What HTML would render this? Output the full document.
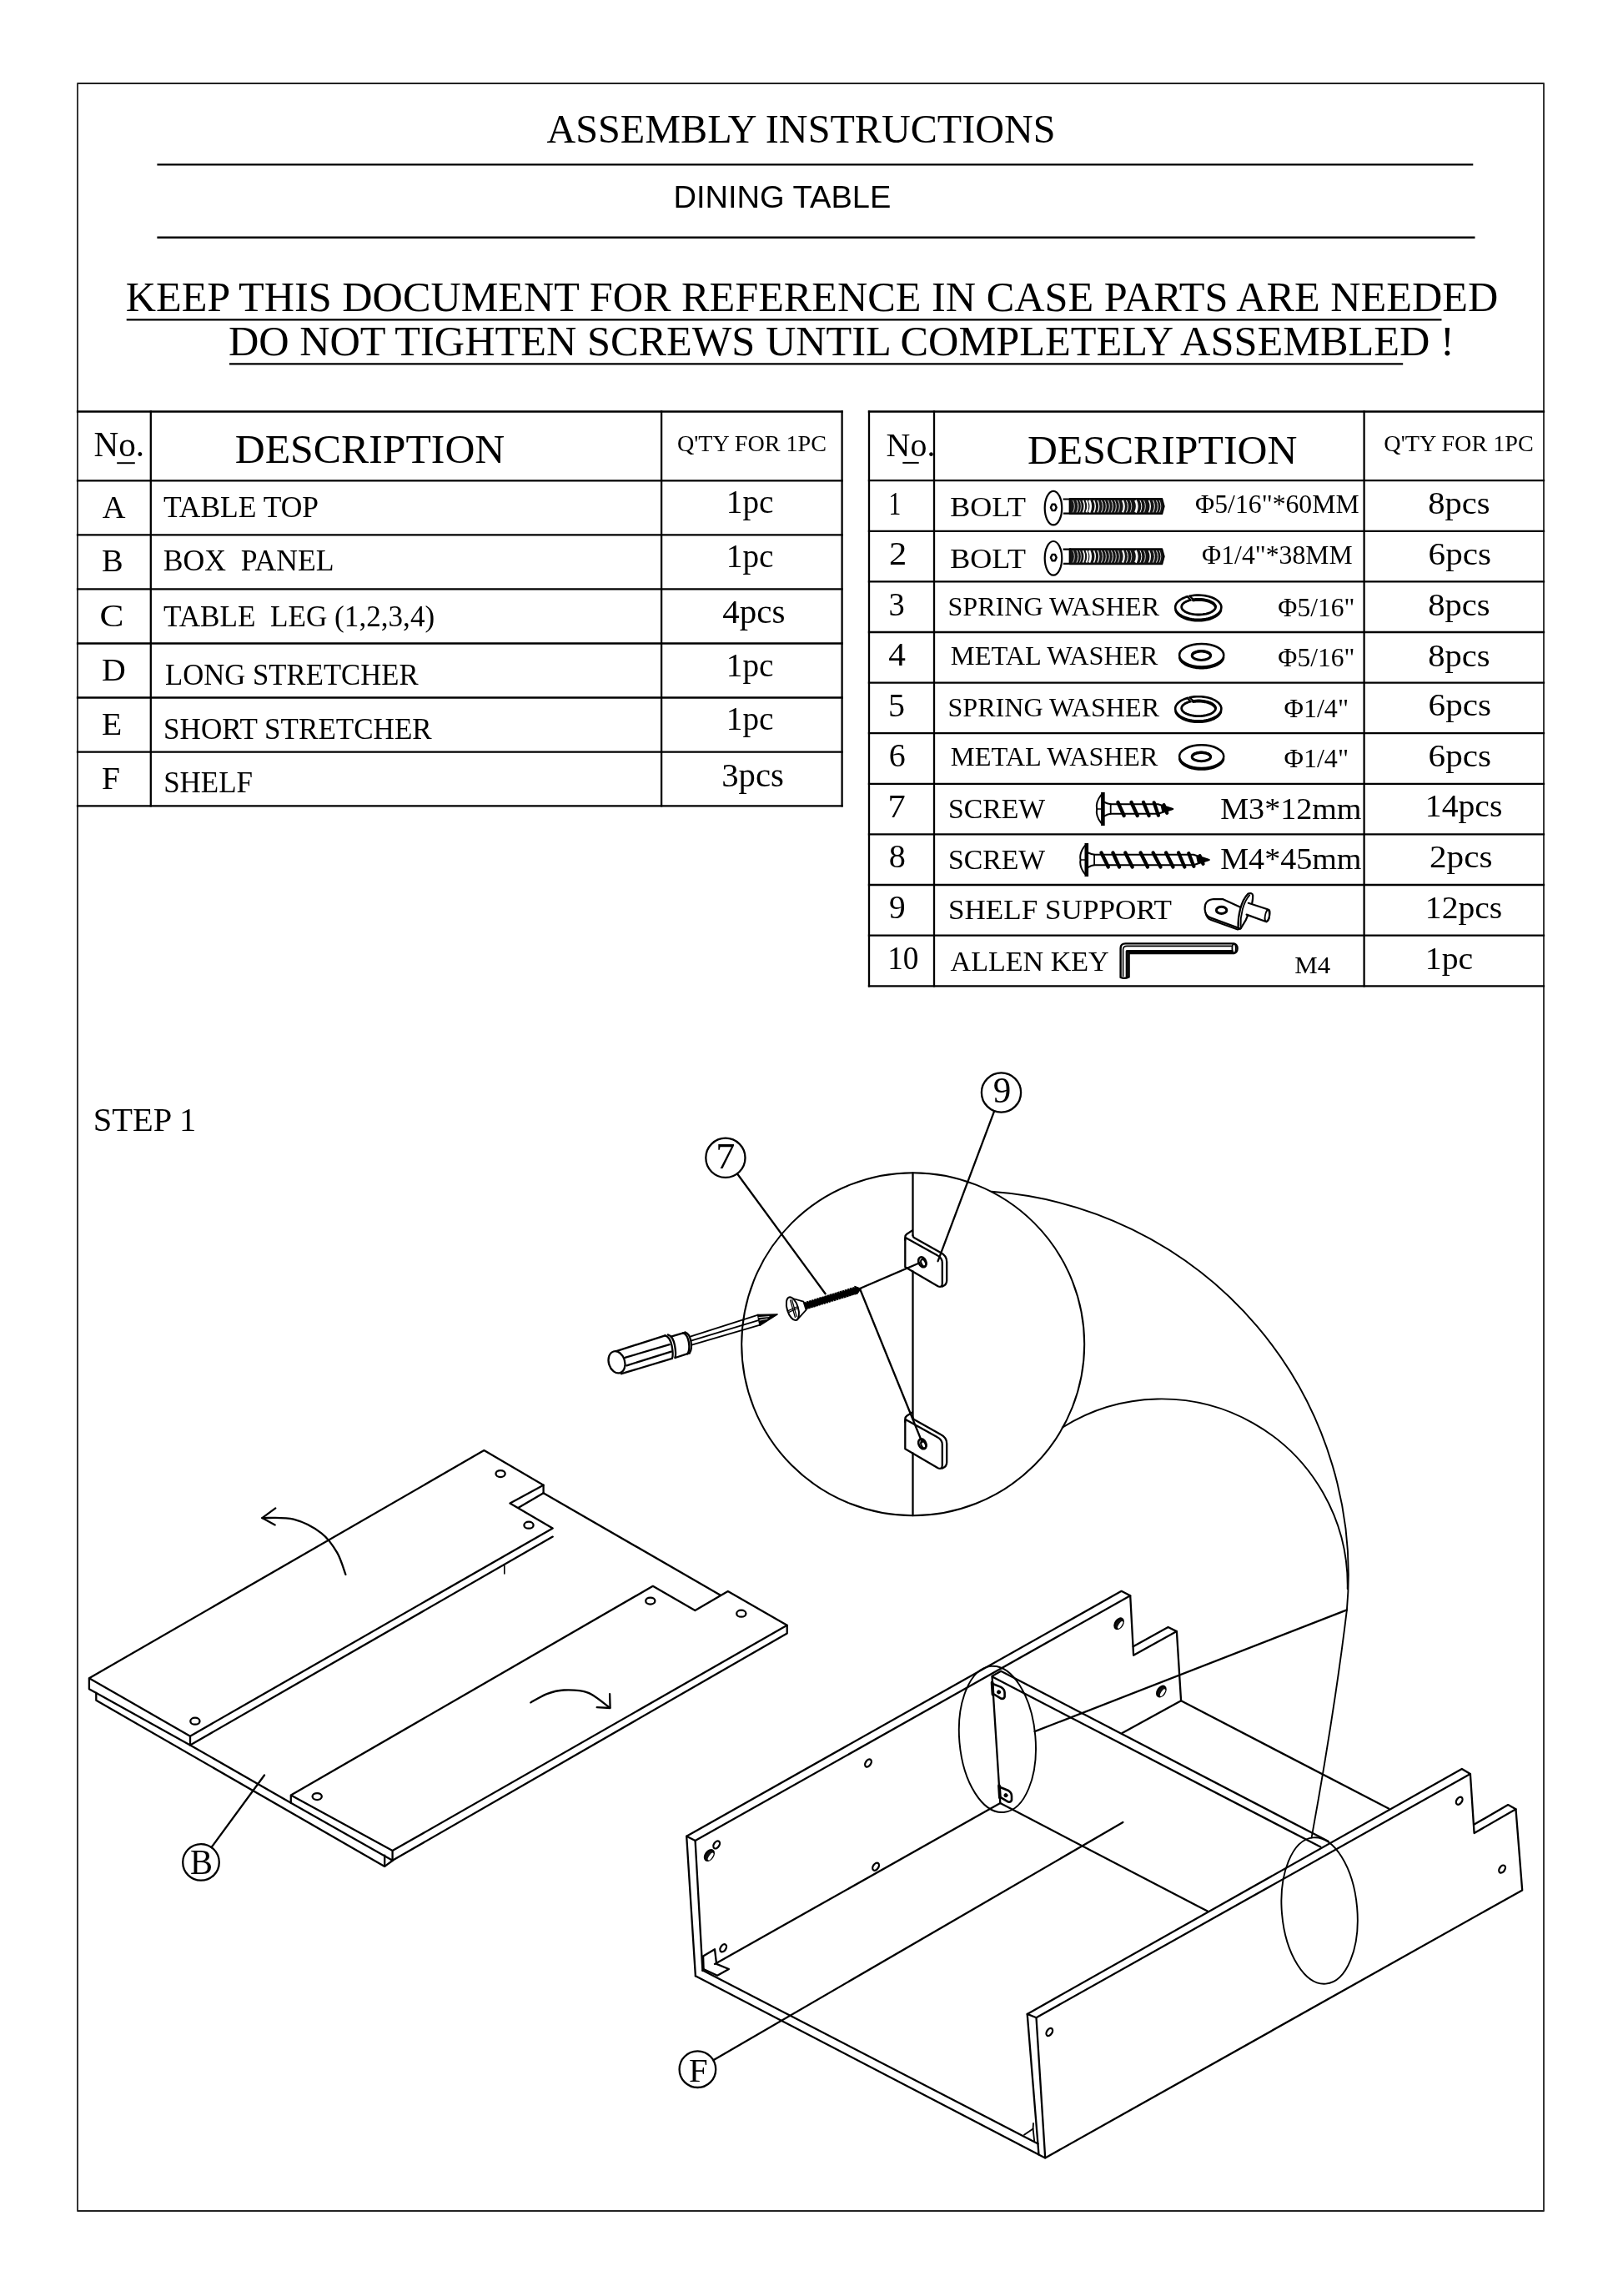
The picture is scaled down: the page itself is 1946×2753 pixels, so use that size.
<!DOCTYPE html>
<html lang="en"><head><meta charset="utf-8"><title>Assembly Instructions - Dining Table</title>
<style>
html,body{margin:0;padding:0;background:#fff;}
body{width:1946px;height:2753px;overflow:hidden;}
svg{display:block;filter:grayscale(1);}
svg .g{stroke:#000;stroke-linecap:round;stroke-linejoin:round;fill:none;}
</style></head><body>
<svg width="1946" height="2753" viewBox="0 0 1946 2753">
<rect width="1946" height="2753" fill="#fff"/>
<g class="g" stroke-width="1.8">
<rect x="93" y="100" width="1758" height="2551" stroke="#222"/>
</g>
<g class="g" stroke-width="2.4" style="stroke-linecap:butt">
<line x1="188.4" y1="197.4" x2="1766.3" y2="197.4"/>
<line x1="188.4" y1="284.7" x2="1768.5" y2="284.7"/>
<line x1="151.7" y1="383.3" x2="1728.5" y2="383.3" stroke-width="2.2"/>
<line x1="275.0" y1="436.3" x2="1682.2" y2="436.3" stroke-width="2.2"/>
</g>
<text transform="translate(655.52,171.20) scale(0.4817,0.4748)" font-size="100" font-family='"Liberation Serif", serif' fill="#000" style="white-space:pre">ASSEMBLY INSTRUCTIONS</text>
<text transform="translate(807.45,248.90) scale(0.3807,0.3765)" font-size="100" font-family='"Liberation Sans", sans-serif' fill="#000" style="white-space:pre">DINING TABLE</text>
<text transform="translate(150.69,372.50) scale(0.5026,0.5008)" font-size="100" font-family='"Liberation Serif", serif' fill="#000" style="white-space:pre">KEEP THIS DOCUMENT FOR REFERENCE IN CASE PARTS ARE NEEDED</text>
<text transform="translate(273.89,426.00) scale(0.5033,0.4977)" font-size="100" font-family='"Liberation Serif", serif' fill="#000" style="white-space:pre">DO NOT TIGHTEN SCREWS UNTIL COMPLETELY ASSEMBLED !</text>
<text transform="translate(111.77,1356.40) scale(0.4051,0.3954)" font-size="100" font-family='"Liberation Serif", serif' fill="#000" style="white-space:pre">STEP 1</text>
<g class="g" stroke-width="2.3" style="stroke-linecap:square">
<line x1="93.0" y1="493.5" x2="1009.6" y2="493.5"/>
<line x1="93.0" y1="576.3" x2="1009.6" y2="576.3"/>
<line x1="93.0" y1="641.4" x2="1009.6" y2="641.4"/>
<line x1="93.0" y1="706.4" x2="1009.6" y2="706.4"/>
<line x1="93.0" y1="771.5" x2="1009.6" y2="771.5"/>
<line x1="93.0" y1="836.5" x2="1009.6" y2="836.5"/>
<line x1="93.0" y1="901.6" x2="1009.6" y2="901.6"/>
<line x1="93.0" y1="966.3" x2="1009.6" y2="966.3"/>
<line x1="180.8" y1="493.5" x2="180.8" y2="966.3"/>
<line x1="793.1" y1="493.5" x2="793.1" y2="966.3"/>
<line x1="1009.6" y1="493.5" x2="1009.6" y2="966.3"/>
<line x1="1042.0" y1="493.5" x2="1851.0" y2="493.5"/>
<line x1="1042.0" y1="576.2" x2="1851.0" y2="576.2"/>
<line x1="1042.0" y1="636.8" x2="1851.0" y2="636.8"/>
<line x1="1042.0" y1="697.4" x2="1851.0" y2="697.4"/>
<line x1="1042.0" y1="758.0" x2="1851.0" y2="758.0"/>
<line x1="1042.0" y1="818.6" x2="1851.0" y2="818.6"/>
<line x1="1042.0" y1="879.2" x2="1851.0" y2="879.2"/>
<line x1="1042.0" y1="939.8" x2="1851.0" y2="939.8"/>
<line x1="1042.0" y1="1000.4" x2="1851.0" y2="1000.4"/>
<line x1="1042.0" y1="1061.0" x2="1851.0" y2="1061.0"/>
<line x1="1042.0" y1="1121.6" x2="1851.0" y2="1121.6"/>
<line x1="1042.0" y1="1182.3" x2="1851.0" y2="1182.3"/>
<line x1="1042.0" y1="493.5" x2="1042.0" y2="1182.3"/>
<line x1="1120.0" y1="493.5" x2="1120.0" y2="1182.3"/>
<line x1="1635.6" y1="493.5" x2="1635.6" y2="1182.3"/>
</g>
<g class="g" stroke-width="2" style="stroke-linecap:butt">
<line x1="140.2" y1="555.2" x2="161.8" y2="555.2"/>
<line x1="1082.3" y1="554.9" x2="1101.7" y2="554.9"/>
</g>
<text transform="translate(112.47,547.10) scale(0.4116,0.4137)" font-size="100" font-family='"Liberation Serif", serif' fill="#000" style="white-space:pre">No.</text>
<text transform="translate(281.71,555.20) scale(0.4980,0.4855)" font-size="100" font-family='"Liberation Serif", serif' fill="#000" style="white-space:pre">DESCRIPTION</text>
<text transform="translate(811.97,541.00) scale(0.2813,0.2824)" font-size="100" font-family='"Liberation Serif", serif' fill="#000" style="white-space:pre">Q'TY FOR 1PC</text>
<text transform="translate(122.82,620.60) scale(0.3844,0.3878)" font-size="100" font-family='"Liberation Serif", serif' fill="#000" style="white-space:pre">A</text>
<text transform="translate(195.99,619.60) scale(0.3549,0.3557)" font-size="100" font-family='"Liberation Serif", serif' fill="#000" style="white-space:pre">TABLE TOP</text>
<text transform="translate(870.76,615.00) scale(0.3925,0.3939)" font-size="100" font-family='"Liberation Serif", serif' fill="#000" style="white-space:pre">1pc</text>
<text transform="translate(122.05,685.00) scale(0.3847,0.3878)" font-size="100" font-family='"Liberation Serif", serif' fill="#000" style="white-space:pre">B</text>
<text transform="translate(195.63,684.30) scale(0.3570,0.3557)" font-size="100" font-family='"Liberation Serif", serif' fill="#000" style="white-space:pre">BOX  PANEL</text>
<text transform="translate(870.76,679.90) scale(0.3925,0.3939)" font-size="100" font-family='"Liberation Serif", serif' fill="#000" style="white-space:pre">1pc</text>
<text transform="translate(119.47,751.10) scale(0.4333,0.3878)" font-size="100" font-family='"Liberation Serif", serif' fill="#000" style="white-space:pre">C</text>
<text transform="translate(196.00,751.10) scale(0.3515,0.3557)" font-size="100" font-family='"Liberation Serif", serif' fill="#000" style="white-space:pre">TABLE  LEG (1,2,3,4)</text>
<text transform="translate(866.28,746.80) scale(0.4101,0.3939)" font-size="100" font-family='"Liberation Serif", serif' fill="#000" style="white-space:pre">4pcs</text>
<text transform="translate(122.00,815.90) scale(0.3985,0.3878)" font-size="100" font-family='"Liberation Serif", serif' fill="#000" style="white-space:pre">D</text>
<text transform="translate(198.06,821.00) scale(0.3470,0.3557)" font-size="100" font-family='"Liberation Serif", serif' fill="#000" style="white-space:pre">LONG STRETCHER</text>
<text transform="translate(870.76,811.00) scale(0.3925,0.3939)" font-size="100" font-family='"Liberation Serif", serif' fill="#000" style="white-space:pre">1pc</text>
<text transform="translate(122.01,881.00) scale(0.3962,0.3878)" font-size="100" font-family='"Liberation Serif", serif' fill="#000" style="white-space:pre">E</text>
<text transform="translate(196.12,886.10) scale(0.3507,0.3557)" font-size="100" font-family='"Liberation Serif", serif' fill="#000" style="white-space:pre">SHORT STRETCHER</text>
<text transform="translate(870.76,875.30) scale(0.3925,0.3939)" font-size="100" font-family='"Liberation Serif", serif' fill="#000" style="white-space:pre">1pc</text>
<text transform="translate(122.02,946.40) scale(0.3939,0.3878)" font-size="100" font-family='"Liberation Serif", serif' fill="#000" style="white-space:pre">F</text>
<text transform="translate(196.13,950.40) scale(0.3499,0.3557)" font-size="100" font-family='"Liberation Serif", serif' fill="#000" style="white-space:pre">SHELF</text>
<text transform="translate(865.27,942.80) scale(0.4068,0.3939)" font-size="100" font-family='"Liberation Serif", serif' fill="#000" style="white-space:pre">3pcs</text>
<text transform="translate(1062.60,546.90) scale(0.3993,0.4000)" font-size="100" font-family='"Liberation Serif", serif' fill="#000" style="white-space:pre">No.</text>
<text transform="translate(1231.91,555.60) scale(0.4975,0.4947)" font-size="100" font-family='"Liberation Serif", serif' fill="#000" style="white-space:pre">DESCRIPTION</text>
<text transform="translate(1659.37,541.00) scale(0.2820,0.2687)" font-size="100" font-family='"Liberation Serif", serif' fill="#000" style="white-space:pre">Q'TY FOR 1PC</text>
<text transform="translate(1065.39,617.20) scale(0.2958,0.3970)" font-size="100" font-family='"Liberation Serif", serif' fill="#000" style="white-space:pre">1</text>
<text transform="translate(1065.99,677.40) scale(0.4250,0.3970)" font-size="100" font-family='"Liberation Serif", serif' fill="#000" style="white-space:pre">2</text>
<text transform="translate(1065.57,737.60) scale(0.3855,0.3970)" font-size="100" font-family='"Liberation Serif", serif' fill="#000" style="white-space:pre">3</text>
<text transform="translate(1065.37,797.60) scale(0.4129,0.3970)" font-size="100" font-family='"Liberation Serif", serif' fill="#000" style="white-space:pre">4</text>
<text transform="translate(1064.90,858.80) scale(0.4000,0.3970)" font-size="100" font-family='"Liberation Serif", serif' fill="#000" style="white-space:pre">5</text>
<text transform="translate(1065.70,918.70) scale(0.4000,0.3970)" font-size="100" font-family='"Liberation Serif", serif' fill="#000" style="white-space:pre">6</text>
<text transform="translate(1064.54,979.60) scale(0.4247,0.3970)" font-size="100" font-family='"Liberation Serif", serif' fill="#000" style="white-space:pre">7</text>
<text transform="translate(1065.69,1040.30) scale(0.4024,0.3970)" font-size="100" font-family='"Liberation Serif", serif' fill="#000" style="white-space:pre">8</text>
<text transform="translate(1066.12,1101.20) scale(0.3930,0.3970)" font-size="100" font-family='"Liberation Serif", serif' fill="#000" style="white-space:pre">9</text>
<text transform="translate(1064.13,1162.00) scale(0.3726,0.3970)" font-size="100" font-family='"Liberation Serif", serif' fill="#000" style="white-space:pre">10</text>
<text transform="translate(1712.18,616.40) scale(0.4057,0.3879)" font-size="100" font-family='"Liberation Serif", serif' fill="#000" style="white-space:pre">8pcs</text>
<text transform="translate(1712.55,677.40) scale(0.4119,0.3879)" font-size="100" font-family='"Liberation Serif", serif' fill="#000" style="white-space:pre">6pcs</text>
<text transform="translate(1712.18,738.10) scale(0.4057,0.3879)" font-size="100" font-family='"Liberation Serif", serif' fill="#000" style="white-space:pre">8pcs</text>
<text transform="translate(1712.18,798.60) scale(0.4057,0.3879)" font-size="100" font-family='"Liberation Serif", serif' fill="#000" style="white-space:pre">8pcs</text>
<text transform="translate(1712.55,858.10) scale(0.4119,0.3879)" font-size="100" font-family='"Liberation Serif", serif' fill="#000" style="white-space:pre">6pcs</text>
<text transform="translate(1712.55,918.70) scale(0.4119,0.3879)" font-size="100" font-family='"Liberation Serif", serif' fill="#000" style="white-space:pre">6pcs</text>
<text transform="translate(1708.83,979.20) scale(0.3968,0.3879)" font-size="100" font-family='"Liberation Serif", serif' fill="#000" style="white-space:pre">14pcs</text>
<text transform="translate(1713.94,1040.30) scale(0.4125,0.3879)" font-size="100" font-family='"Liberation Serif", serif' fill="#000" style="white-space:pre">2pcs</text>
<text transform="translate(1708.83,1101.40) scale(0.3964,0.3879)" font-size="100" font-family='"Liberation Serif", serif' fill="#000" style="white-space:pre">12pcs</text>
<text transform="translate(1708.83,1162.00) scale(0.3970,0.3879)" font-size="100" font-family='"Liberation Serif", serif' fill="#000" style="white-space:pre">1pc</text>
<text transform="translate(1139.32,619.00) scale(0.3604,0.3389)" font-size="100" font-family='"Liberation Serif", serif' fill="#000" style="white-space:pre">BOLT</text>
<text transform="translate(1139.32,680.50) scale(0.3604,0.3389)" font-size="100" font-family='"Liberation Serif", serif' fill="#000" style="white-space:pre">BOLT</text>
<text transform="translate(1136.51,738.10) scale(0.3210,0.3191)" font-size="100" font-family='"Liberation Serif", serif' fill="#000" style="white-space:pre">SPRING WASHER</text>
<text transform="translate(1139.83,796.60) scale(0.3242,0.3115)" font-size="100" font-family='"Liberation Serif", serif' fill="#000" style="white-space:pre">METAL WASHER</text>
<text transform="translate(1136.51,859.20) scale(0.3210,0.3191)" font-size="100" font-family='"Liberation Serif", serif' fill="#000" style="white-space:pre">SPRING WASHER</text>
<text transform="translate(1139.83,917.50) scale(0.3242,0.3115)" font-size="100" font-family='"Liberation Serif", serif' fill="#000" style="white-space:pre">METAL WASHER</text>
<text transform="translate(1137.01,981.30) scale(0.3372,0.3328)" font-size="100" font-family='"Liberation Serif", serif' fill="#000" style="white-space:pre">SCREW</text>
<text transform="translate(1137.01,1041.50) scale(0.3372,0.3328)" font-size="100" font-family='"Liberation Serif", serif' fill="#000" style="white-space:pre">SCREW</text>
<text transform="translate(1136.92,1102.40) scale(0.3512,0.3420)" font-size="100" font-family='"Liberation Serif", serif' fill="#000" style="white-space:pre">SHELF SUPPORT</text>
<text transform="translate(1139.56,1163.90) scale(0.3408,0.3420)" font-size="100" font-family='"Liberation Serif", serif' fill="#000" style="white-space:pre">ALLEN KEY</text>
<text transform="translate(1552.27,1167.10) scale(0.3093,0.2931)" font-size="100" font-family='"Liberation Serif", serif' fill="#000" style="white-space:pre">M4</text>
<text transform="translate(1463.26,981.90) scale(0.3809,0.3618)" font-size="100" font-family='"Liberation Serif", serif' fill="#000" style="white-space:pre">M3*12mm</text>
<text transform="translate(1463.26,1042.10) scale(0.3809,0.3618)" font-size="100" font-family='"Liberation Serif", serif' fill="#000" style="white-space:pre">M4*45mm</text>
<text transform="translate(1433.05,614.90) scale(0.3175,0.3130)" font-size="100" font-family='"Liberation Serif", serif' fill="#000" style="white-space:pre">Φ5/16"*60MM</text>
<text transform="translate(1441.05,675.70) scale(0.3173,0.3130)" font-size="100" font-family='"Liberation Serif", serif' fill="#000" style="white-space:pre">Φ1/4"*38MM</text>
<text transform="translate(1532.35,739.00) scale(0.3154,0.3130)" font-size="100" font-family='"Liberation Serif", serif' fill="#000" style="white-space:pre">Φ5/16"</text>
<text transform="translate(1532.35,799.00) scale(0.3154,0.3130)" font-size="100" font-family='"Liberation Serif", serif' fill="#000" style="white-space:pre">Φ5/16"</text>
<text transform="translate(1539.44,859.80) scale(0.3209,0.3130)" font-size="100" font-family='"Liberation Serif", serif' fill="#000" style="white-space:pre">Φ1/4"</text>
<text transform="translate(1539.44,920.00) scale(0.3209,0.3130)" font-size="100" font-family='"Liberation Serif", serif' fill="#000" style="white-space:pre">Φ1/4"</text>
<g class="g" stroke-width="2.2">
<ellipse cx="1263.0" cy="609.1" rx="10.3" ry="20.3" fill="none"/>
<path d="M1266.7,608.4 L1265.0,612.1 L1261.6,612.1 L1259.9,608.4 L1261.6,604.7 L1265.0,604.7 Z" fill="none" stroke-width="2.4"/>
</g>
<path d="M1274.6,598.5 L1283,598.5 L1283,615.7 L1274.9,615.7" fill="#fff" stroke="#000" stroke-width="2.2"/>
<path d="M1270.2,591.5 L1270.9,592.2 L1271.5,593.0 L1272.1,593.9 L1272.6,594.9 L1273.1,596.0 L1273.6,597.1 L1274.0,598.3 L1274.4,599.6 L1274.8,600.9 L1275.0,602.2 L1275.3,603.6 L1275.5,605.0 L1275.6,606.5 L1275.7,607.9 L1275.7,609.4 L1275.7,610.9 L1275.6,612.3 L1275.5,613.8 L1275.3,615.2 L1275.0,616.6 L1274.8,617.9 L1274.4,619.2 L1274.0,620.5 L1273.6,621.7 L1273.1,622.8 L1272.6,623.9 L1272.1,624.9 L1271.5,625.8 L1270.9,626.6 L1270.2,627.3" fill="none" stroke-width="2.0"/>
<path d="M1282.5,597.9 L1393.4,597.9 L1395.9,607.1 L1393.4,616.3 L1282.5,616.3 Z" fill="#151515" stroke="#000" stroke-width="1.6" stroke-linejoin="round"/>
<g fill="none" stroke="#fff" stroke-linecap="butt">
<path d="M1286.5,599.9 Q1290.1,607.1 1286.5,614.3" stroke-width="0.7"/>
<path d="M1291.0,599.9 Q1294.6,607.1 1291.0,614.3" stroke-width="0.9"/>
<path d="M1294.5,599.9 Q1298.1,607.1 1294.5,614.3" stroke-width="0.7"/>
<path d="M1298.5,599.9 Q1302.1,607.1 1298.5,614.3" stroke-width="1.6"/>
<path d="M1302.5,599.9 Q1306.1,607.1 1302.5,614.3" stroke-width="2.0"/>
<path d="M1306.0,599.9 Q1309.6,607.1 1306.0,614.3" stroke-width="2.6"/>
<path d="M1311.5,599.9 Q1315.1,607.1 1311.5,614.3" stroke-width="1.5"/>
<path d="M1316.0,599.9 Q1319.6,607.1 1316.0,614.3" stroke-width="1.2"/>
<path d="M1320.5,599.9 Q1324.1,607.1 1320.5,614.3" stroke-width="0.9"/>
<path d="M1324.5,599.9 Q1328.1,607.1 1324.5,614.3" stroke-width="0.8"/>
<path d="M1328.5,599.9 Q1332.1,607.1 1328.5,614.3" stroke-width="0.8"/>
<path d="M1332.5,599.9 Q1336.1,607.1 1332.5,614.3" stroke-width="0.9"/>
<path d="M1336.5,599.9 Q1340.1,607.1 1336.5,614.3" stroke-width="0.8"/>
<path d="M1340.5,599.9 Q1344.1,607.1 1340.5,614.3" stroke-width="0.8"/>
<path d="M1346.0,599.9 Q1349.6,607.1 1346.0,614.3" stroke-width="2.2"/>
<path d="M1350.5,599.9 Q1354.1,607.1 1350.5,614.3" stroke-width="1.0"/>
<path d="M1355.0,599.9 Q1358.6,607.1 1355.0,614.3" stroke-width="0.7"/>
<path d="M1361.5,599.9 Q1365.1,607.1 1361.5,614.3" stroke-width="2.8"/>
<path d="M1367.0,599.9 Q1370.6,607.1 1367.0,614.3" stroke-width="1.0"/>
<path d="M1371.5,599.9 Q1375.1,607.1 1371.5,614.3" stroke-width="0.8"/>
<path d="M1377.5,599.9 Q1381.1,607.1 1377.5,614.3" stroke-width="1.5"/>
<path d="M1382.5,599.9 Q1386.1,607.1 1382.5,614.3" stroke-width="1.0"/>
<path d="M1386.5,599.9 Q1390.1,607.1 1386.5,614.3" stroke-width="0.9"/>
<path d="M1390.0,599.9 Q1393.6,607.1 1390.0,614.3" stroke-width="0.7"/>
</g>
<g class="g" stroke-width="2.2">
<ellipse cx="1263.0" cy="669.3" rx="10.3" ry="20.3" fill="none"/>
<path d="M1266.7,668.6 L1265.0,672.3 L1261.6,672.3 L1259.9,668.6 L1261.6,664.9 L1265.0,664.9 Z" fill="none" stroke-width="2.4"/>
</g>
<path d="M1274.6,658.7 L1283,658.7 L1283,675.9 L1274.9,675.9" fill="#fff" stroke="#000" stroke-width="2.2"/>
<path d="M1270.2,651.7 L1270.9,652.4 L1271.5,653.2 L1272.1,654.1 L1272.6,655.1 L1273.1,656.2 L1273.6,657.3 L1274.0,658.5 L1274.4,659.8 L1274.8,661.1 L1275.0,662.4 L1275.3,663.8 L1275.5,665.2 L1275.6,666.7 L1275.7,668.1 L1275.7,669.6 L1275.7,671.1 L1275.6,672.5 L1275.5,674.0 L1275.3,675.4 L1275.0,676.8 L1274.8,678.1 L1274.4,679.4 L1274.0,680.7 L1273.6,681.9 L1273.1,683.0 L1272.6,684.1 L1272.1,685.1 L1271.5,686.0 L1270.9,686.8 L1270.2,687.5" fill="none" stroke-width="2.0"/>
<path d="M1282.5,658.1 L1393.4,658.1 L1395.9,667.3 L1393.4,676.5 L1282.5,676.5 Z" fill="#151515" stroke="#000" stroke-width="1.6" stroke-linejoin="round"/>
<g fill="none" stroke="#fff" stroke-linecap="butt">
<path d="M1286.5,660.1 Q1290.1,667.3 1286.5,674.5" stroke-width="0.7"/>
<path d="M1291.0,660.1 Q1294.6,667.3 1291.0,674.5" stroke-width="0.9"/>
<path d="M1294.5,660.1 Q1298.1,667.3 1294.5,674.5" stroke-width="0.7"/>
<path d="M1298.5,660.1 Q1302.1,667.3 1298.5,674.5" stroke-width="1.6"/>
<path d="M1302.5,660.1 Q1306.1,667.3 1302.5,674.5" stroke-width="2.0"/>
<path d="M1306.0,660.1 Q1309.6,667.3 1306.0,674.5" stroke-width="2.6"/>
<path d="M1311.5,660.1 Q1315.1,667.3 1311.5,674.5" stroke-width="1.5"/>
<path d="M1316.0,660.1 Q1319.6,667.3 1316.0,674.5" stroke-width="1.2"/>
<path d="M1320.5,660.1 Q1324.1,667.3 1320.5,674.5" stroke-width="0.9"/>
<path d="M1324.5,660.1 Q1328.1,667.3 1324.5,674.5" stroke-width="0.8"/>
<path d="M1328.5,660.1 Q1332.1,667.3 1328.5,674.5" stroke-width="0.8"/>
<path d="M1332.5,660.1 Q1336.1,667.3 1332.5,674.5" stroke-width="0.9"/>
<path d="M1336.5,660.1 Q1340.1,667.3 1336.5,674.5" stroke-width="0.8"/>
<path d="M1340.5,660.1 Q1344.1,667.3 1340.5,674.5" stroke-width="0.8"/>
<path d="M1346.0,660.1 Q1349.6,667.3 1346.0,674.5" stroke-width="2.2"/>
<path d="M1350.5,660.1 Q1354.1,667.3 1350.5,674.5" stroke-width="1.0"/>
<path d="M1355.0,660.1 Q1358.6,667.3 1355.0,674.5" stroke-width="0.7"/>
<path d="M1361.5,660.1 Q1365.1,667.3 1361.5,674.5" stroke-width="2.8"/>
<path d="M1367.0,660.1 Q1370.6,667.3 1367.0,674.5" stroke-width="1.0"/>
<path d="M1371.5,660.1 Q1375.1,667.3 1371.5,674.5" stroke-width="0.8"/>
<path d="M1377.5,660.1 Q1381.1,667.3 1377.5,674.5" stroke-width="1.5"/>
<path d="M1382.5,660.1 Q1386.1,667.3 1382.5,674.5" stroke-width="1.0"/>
<path d="M1386.5,660.1 Q1390.1,667.3 1386.5,674.5" stroke-width="0.9"/>
<path d="M1390.0,660.1 Q1393.6,667.3 1390.0,674.5" stroke-width="0.7"/>
</g>
<g class="g">
<path d="M1426.5,714.7 L1429.1,714.2 L1431.9,713.8 L1434.7,713.6 L1437.6,713.6 L1440.4,713.7 L1443.2,714.0 L1445.9,714.4 L1448.6,715.0 L1451.1,715.7 L1453.4,716.5 L1455.6,717.5 L1457.6,718.6 L1459.3,719.8 L1460.8,721.0 L1462.1,722.4 L1463.1,723.8 L1463.8,725.2 L1464.3,726.7 L1464.4,728.2 L1464.2,729.7 L1463.8,731.2 L1463.1,732.7 L1462.1,734.1 L1460.8,735.4 L1459.3,736.7 L1457.5,737.9 L1455.5,738.9 L1453.3,739.9 L1451.0,740.7 L1448.5,741.4 L1445.8,742.0 L1443.1,742.4 L1440.3,742.7 L1437.5,742.8 L1434.6,742.8 L1431.8,742.6 L1429.1,742.2 L1426.4,741.7 L1423.8,741.1 L1421.4,740.3 L1419.1,739.4 L1417.0,738.4 L1415.1,737.2 L1413.5,736.0 L1412.1,734.7 L1411.0,733.3 L1410.1,731.9 L1409.5,730.4 L1409.2,728.9 L1409.2,727.4 L1409.5,725.9 L1410.1,724.5 L1411.0,723.0 L1412.1,721.7 L1413.5,720.4 L1415.2,719.1 L1417.0,718.0 L1419.1,717.0 L1421.4,716.1 L1423.8,715.3" fill="none" stroke-width="2.6"/>
<path d="M1464.1,731.7 L1463.8,732.8 L1463.3,733.8 L1462.7,734.8 L1461.9,735.7 L1461.1,736.7 L1460.1,737.6 L1458.9,738.4 L1457.7,739.2 L1456.4,740.0 L1454.9,740.7 L1453.4,741.4 L1451.8,742.0 L1450.1,742.5 L1448.3,743.0 L1446.5,743.4 L1444.6,743.7 L1442.7,744.0 L1440.7,744.2 L1438.8,744.3 L1436.8,744.3 L1434.8,744.3 L1432.9,744.2 L1430.9,744.0 L1429.0,743.7 L1427.1,743.4 L1425.3,743.0 L1423.5,742.5 L1421.8,742.0 L1420.2,741.4 L1418.7,740.7 L1417.2,740.0 L1415.9,739.2 L1414.7,738.4 L1413.5,737.6 L1412.5,736.7 L1411.7,735.7 L1410.9,734.8 L1410.3,733.8 L1409.8,732.8 L1409.5,731.7" fill="none" stroke-width="2.4"/>
<path d="M1430.1,719.0 L1432.1,718.7 L1434.1,718.5 L1436.2,718.4 L1438.2,718.4 L1440.3,718.5 L1442.3,718.7 L1444.3,719.0 L1446.2,719.4 L1448.0,719.8 L1449.7,720.4 L1451.2,721.0 L1452.6,721.7 L1453.9,722.4 L1455.0,723.2 L1455.9,724.1 L1456.6,724.9 L1457.1,725.9 L1457.4,726.8 L1457.5,727.7 L1457.4,728.7 L1457.1,729.6 L1456.5,730.5 L1455.8,731.4 L1454.9,732.2 L1453.8,733.0 L1452.5,733.8 L1451.1,734.5 L1449.5,735.1 L1447.8,735.6 L1446.0,736.1 L1444.1,736.4 L1442.2,736.7 L1440.2,736.9 L1438.1,737.0 L1436.0,737.0 L1434.0,736.9 L1432.0,736.7 L1430.0,736.4 L1428.1,736.0 L1426.3,735.6 L1424.6,735.0 L1423.0,734.4 L1421.6,733.8 L1420.3,733.0 L1419.3,732.2 L1418.3,731.4 L1417.6,730.5 L1417.1,729.6 L1416.8,728.6 L1416.7,727.7 L1416.8,726.8 L1417.1,725.8 L1417.6,724.9 L1418.3,724.0 L1419.3,723.2 L1420.3,722.4 L1421.6,721.6 L1423.0,721.0 L1424.6,720.4 L1426.3,719.8" fill="none" stroke-width="2.8"/>
<path d="M1430.8,719.8 L1431.9,719.6 L1433.1,719.5 L1434.3,719.4 L1435.4,719.3 L1436.6,719.3 L1437.8,719.3 L1439.0,719.3 L1440.2,719.4 L1441.3,719.5 L1442.5,719.6 L1443.6,719.8 L1444.7,720.0 L1445.8,720.2 L1446.9,720.4 L1447.9,720.7 L1448.9,721.0 L1449.8,721.3 L1450.8,721.7 L1451.6,722.1 L1452.4,722.5 L1453.2,722.9 L1453.9,723.3 L1454.5,723.8 L1455.1,724.2 L1455.6,724.7 L1456.1,725.2 L1456.5,725.7 L1456.8,726.2 L1457.1,726.8 L1457.3,727.3" fill="none" stroke-width="3.2"/>
<line x1="1423.8" y1="715.3" x2="1427.8" y2="719.8" stroke-width="2.2"/>
<line x1="1426.5" y1="714.7" x2="1431.3" y2="719.5" stroke-width="2.2"/>
</g>
<g class="g">
<path d="M1426.5,836.3 L1429.1,835.8 L1431.9,835.4 L1434.7,835.2 L1437.6,835.2 L1440.4,835.3 L1443.2,835.6 L1445.9,836.0 L1448.6,836.6 L1451.1,837.3 L1453.4,838.1 L1455.6,839.1 L1457.6,840.2 L1459.3,841.4 L1460.8,842.6 L1462.1,844.0 L1463.1,845.4 L1463.8,846.8 L1464.3,848.3 L1464.4,849.8 L1464.2,851.3 L1463.8,852.8 L1463.1,854.3 L1462.1,855.7 L1460.8,857.0 L1459.3,858.3 L1457.5,859.5 L1455.5,860.5 L1453.3,861.5 L1451.0,862.3 L1448.5,863.0 L1445.8,863.6 L1443.1,864.0 L1440.3,864.3 L1437.5,864.4 L1434.6,864.4 L1431.8,864.2 L1429.1,863.8 L1426.4,863.3 L1423.8,862.7 L1421.4,861.9 L1419.1,861.0 L1417.0,860.0 L1415.1,858.8 L1413.5,857.6 L1412.1,856.3 L1411.0,854.9 L1410.1,853.5 L1409.5,852.0 L1409.2,850.5 L1409.2,849.0 L1409.5,847.5 L1410.1,846.1 L1411.0,844.6 L1412.1,843.3 L1413.5,842.0 L1415.2,840.7 L1417.0,839.6 L1419.1,838.6 L1421.4,837.7 L1423.8,836.9" fill="none" stroke-width="2.6"/>
<path d="M1464.1,853.3 L1463.8,854.4 L1463.3,855.4 L1462.7,856.4 L1461.9,857.3 L1461.1,858.3 L1460.1,859.2 L1458.9,860.0 L1457.7,860.8 L1456.4,861.6 L1454.9,862.3 L1453.4,863.0 L1451.8,863.6 L1450.1,864.1 L1448.3,864.6 L1446.5,865.0 L1444.6,865.3 L1442.7,865.6 L1440.7,865.8 L1438.8,865.9 L1436.8,865.9 L1434.8,865.9 L1432.9,865.8 L1430.9,865.6 L1429.0,865.3 L1427.1,865.0 L1425.3,864.6 L1423.5,864.1 L1421.8,863.6 L1420.2,863.0 L1418.7,862.3 L1417.2,861.6 L1415.9,860.8 L1414.7,860.0 L1413.5,859.2 L1412.5,858.3 L1411.7,857.3 L1410.9,856.4 L1410.3,855.4 L1409.8,854.4 L1409.5,853.3" fill="none" stroke-width="2.4"/>
<path d="M1430.1,840.6 L1432.1,840.3 L1434.1,840.1 L1436.2,840.0 L1438.2,840.0 L1440.3,840.1 L1442.3,840.3 L1444.3,840.6 L1446.2,841.0 L1448.0,841.4 L1449.7,842.0 L1451.2,842.6 L1452.6,843.3 L1453.9,844.0 L1455.0,844.8 L1455.9,845.7 L1456.6,846.5 L1457.1,847.5 L1457.4,848.4 L1457.5,849.3 L1457.4,850.3 L1457.1,851.2 L1456.5,852.1 L1455.8,853.0 L1454.9,853.8 L1453.8,854.6 L1452.5,855.4 L1451.1,856.1 L1449.5,856.7 L1447.8,857.2 L1446.0,857.7 L1444.1,858.0 L1442.2,858.3 L1440.2,858.5 L1438.1,858.6 L1436.0,858.6 L1434.0,858.5 L1432.0,858.3 L1430.0,858.0 L1428.1,857.6 L1426.3,857.2 L1424.6,856.6 L1423.0,856.0 L1421.6,855.4 L1420.3,854.6 L1419.3,853.8 L1418.3,853.0 L1417.6,852.1 L1417.1,851.2 L1416.8,850.2 L1416.7,849.3 L1416.8,848.4 L1417.1,847.4 L1417.6,846.5 L1418.3,845.6 L1419.3,844.8 L1420.3,844.0 L1421.6,843.2 L1423.0,842.6 L1424.6,842.0 L1426.3,841.4" fill="none" stroke-width="2.8"/>
<path d="M1430.8,841.4 L1431.9,841.2 L1433.1,841.1 L1434.3,841.0 L1435.4,840.9 L1436.6,840.9 L1437.8,840.9 L1439.0,840.9 L1440.2,841.0 L1441.3,841.1 L1442.5,841.2 L1443.6,841.4 L1444.7,841.6 L1445.8,841.8 L1446.9,842.0 L1447.9,842.3 L1448.9,842.6 L1449.8,842.9 L1450.8,843.3 L1451.6,843.7 L1452.4,844.1 L1453.2,844.5 L1453.9,844.9 L1454.5,845.4 L1455.1,845.8 L1455.6,846.3 L1456.1,846.8 L1456.5,847.3 L1456.8,847.8 L1457.1,848.4 L1457.3,848.9" fill="none" stroke-width="3.2"/>
<line x1="1423.8" y1="836.9" x2="1427.8" y2="841.4" stroke-width="2.2"/>
<line x1="1426.5" y1="836.3" x2="1431.3" y2="841.1" stroke-width="2.2"/>
</g>
<g class="g">
<ellipse cx="1440.7" cy="785.7" rx="26.6" ry="13.8" fill="none" stroke-width="2.5"/>
<path d="M1467.2,788.5 L1467.0,789.5 L1466.7,790.5 L1466.2,791.5 L1465.5,792.5 L1464.7,793.4 L1463.8,794.4 L1462.7,795.2 L1461.5,796.1 L1460.2,796.9 L1458.8,797.6 L1457.3,798.3 L1455.7,798.9 L1454.0,799.4 L1452.3,799.9 L1450.4,800.3 L1448.6,800.7 L1446.6,801.0 L1444.7,801.1 L1442.7,801.3 L1440.7,801.3 L1438.7,801.3 L1436.7,801.1 L1434.8,801.0 L1432.8,800.7 L1431.0,800.3 L1429.1,799.9 L1427.4,799.4 L1425.7,798.9 L1424.1,798.3 L1422.6,797.6 L1421.2,796.9 L1419.9,796.1 L1418.7,795.2 L1417.6,794.4 L1416.7,793.4 L1415.9,792.5 L1415.2,791.5 L1414.7,790.5 L1414.4,789.5 L1414.2,788.5" fill="none" stroke-width="2.3"/>
<path d="M1465.7,791.4 L1465.1,792.2 L1464.4,793.0 L1463.6,793.7 L1462.8,794.4 L1461.8,795.1 L1460.8,795.8 L1459.7,796.4 L1458.5,797.0 L1457.3,797.5 L1456.0,798.0 L1454.6,798.5 L1453.2,798.9 L1451.7,799.3 L1450.2,799.6 L1448.7,799.9 L1447.1,800.1 L1445.5,800.3 L1443.9,800.4 L1442.3,800.5 L1440.7,800.5 L1439.1,800.5 L1437.5,800.4 L1435.9,800.3 L1434.3,800.1 L1432.7,799.9 L1431.2,799.6 L1429.7,799.3 L1428.2,798.9 L1426.8,798.5 L1425.4,798.0 L1424.1,797.5 L1422.9,797.0 L1421.7,796.4 L1420.6,795.8 L1419.6,795.1 L1418.6,794.4 L1417.8,793.7 L1417.0,793.0 L1416.3,792.2 L1415.7,791.4" fill="none" stroke-width="2.0"/>
<ellipse cx="1440.4" cy="786.0" rx="11.2" ry="5.4" fill="none" stroke-width="3.0"/>
<path d="M1429.9,784.6 L1430.4,783.9 L1431.1,783.4 L1431.9,782.9 L1432.9,782.4 L1434.0,782.0 L1435.1,781.6 L1436.4,781.4 L1437.7,781.2 L1439.0,781.0 L1440.4,781.0 L1441.8,781.0 L1443.1,781.2 L1444.4,781.4 L1445.7,781.6 L1446.8,782.0 L1447.9,782.4 L1448.9,782.9 L1449.7,783.4 L1450.4,783.9 L1450.9,784.6" fill="none" stroke-width="3.2"/>
</g>
<g class="g">
<ellipse cx="1440.7" cy="907.1" rx="26.6" ry="13.8" fill="none" stroke-width="2.5"/>
<path d="M1467.2,909.9 L1467.0,910.9 L1466.7,911.9 L1466.2,912.9 L1465.5,913.9 L1464.7,914.8 L1463.8,915.8 L1462.7,916.6 L1461.5,917.5 L1460.2,918.3 L1458.8,919.0 L1457.3,919.7 L1455.7,920.3 L1454.0,920.8 L1452.3,921.3 L1450.4,921.7 L1448.6,922.1 L1446.6,922.4 L1444.7,922.5 L1442.7,922.7 L1440.7,922.7 L1438.7,922.7 L1436.7,922.5 L1434.8,922.4 L1432.8,922.1 L1431.0,921.7 L1429.1,921.3 L1427.4,920.8 L1425.7,920.3 L1424.1,919.7 L1422.6,919.0 L1421.2,918.3 L1419.9,917.5 L1418.7,916.6 L1417.6,915.8 L1416.7,914.8 L1415.9,913.9 L1415.2,912.9 L1414.7,911.9 L1414.4,910.9 L1414.2,909.9" fill="none" stroke-width="2.3"/>
<path d="M1465.7,912.8 L1465.1,913.6 L1464.4,914.4 L1463.6,915.1 L1462.8,915.8 L1461.8,916.5 L1460.8,917.2 L1459.7,917.8 L1458.5,918.4 L1457.3,918.9 L1456.0,919.4 L1454.6,919.9 L1453.2,920.3 L1451.7,920.7 L1450.2,921.0 L1448.7,921.3 L1447.1,921.5 L1445.5,921.7 L1443.9,921.8 L1442.3,921.9 L1440.7,921.9 L1439.1,921.9 L1437.5,921.8 L1435.9,921.7 L1434.3,921.5 L1432.7,921.3 L1431.2,921.0 L1429.7,920.7 L1428.2,920.3 L1426.8,919.9 L1425.4,919.4 L1424.1,918.9 L1422.9,918.4 L1421.7,917.8 L1420.6,917.2 L1419.6,916.5 L1418.6,915.8 L1417.8,915.1 L1417.0,914.4 L1416.3,913.6 L1415.7,912.8" fill="none" stroke-width="2.0"/>
<ellipse cx="1440.4" cy="907.4" rx="11.2" ry="5.4" fill="none" stroke-width="3.0"/>
<path d="M1429.9,906.0 L1430.4,905.3 L1431.1,904.8 L1431.9,904.3 L1432.9,903.8 L1434.0,903.4 L1435.1,903.0 L1436.4,902.8 L1437.7,902.6 L1439.0,902.4 L1440.4,902.4 L1441.8,902.4 L1443.1,902.6 L1444.4,902.8 L1445.7,903.0 L1446.8,903.4 L1447.9,903.8 L1448.9,904.3 L1449.7,904.8 L1450.4,905.3 L1450.9,906.0" fill="none" stroke-width="3.2"/>
</g>
<g class="g">
<line x1="1322.4" y1="950.0" x2="1322.4" y2="990.0" stroke-width="4.6" style="stroke-linecap:butt"/>
<path d="M1320.4,953.0 Q1313.4,962.0 1315.2,970.0 Q1313.4,978.0 1320.4,987.0" stroke-width="2"/>
<line x1="1315.4" y1="970.0" x2="1320.4" y2="970.0" stroke-width="1.6"/>
<path d="M1324.4,962.0 Q1328.4,963.9 1331.9,964.2 L1388.5,964.2 L1406.2,970.0 L1388.5,975.8 L1331.9,975.8 Q1328.4,976.1 1324.4,978.4" stroke-width="2.1"/>
<line x1="1331.7" y1="964.2" x2="1331.7" y2="975.8" stroke-width="1.8"/>
<line x1="1340.4" y1="962.0" x2="1347.7" y2="978.0" stroke-width="4.3"/>
<line x1="1356.5" y1="962.0" x2="1363.8" y2="978.0" stroke-width="4.3"/>
<line x1="1371.0" y1="962.0" x2="1377.6" y2="978.0" stroke-width="4.3"/>
<line x1="1383.7" y1="962.4" x2="1388.9" y2="977.6" stroke-width="4.3"/>
<line x1="1395.5" y1="965.2" x2="1399.2" y2="974.8" stroke-width="4.3"/>
<path d="M1392.5,966.6 L1406.2,970.0 L1394.0,973.6 Z" fill="#000" stroke-width="1.4"/>
</g>
<g class="g">
<line x1="1302.8" y1="1011.0" x2="1302.8" y2="1051.0" stroke-width="4.6" style="stroke-linecap:butt"/>
<path d="M1300.8,1014.0 Q1293.8,1023.0 1295.6,1031.0 Q1293.8,1039.0 1300.8,1048.0" stroke-width="2"/>
<line x1="1295.8" y1="1031.0" x2="1300.8" y2="1031.0" stroke-width="1.6"/>
<path d="M1304.8,1022.5 Q1308.8,1024.4 1312.3,1024.7 L1431.0,1024.7 L1449.7,1031.0 L1431.0,1037.3 L1312.3,1037.3 Q1308.8,1037.6 1304.8,1039.9" stroke-width="2.1"/>
<line x1="1312.1" y1="1024.7" x2="1312.1" y2="1037.3" stroke-width="1.8"/>
<line x1="1320.5" y1="1022.5" x2="1328.8" y2="1039.5" stroke-width="4.3"/>
<line x1="1334.4" y1="1022.5" x2="1342.1" y2="1039.5" stroke-width="4.3"/>
<line x1="1349.3" y1="1022.5" x2="1357.7" y2="1039.5" stroke-width="4.3"/>
<line x1="1367.6" y1="1022.5" x2="1376.0" y2="1039.5" stroke-width="4.3"/>
<line x1="1382.6" y1="1022.5" x2="1391.5" y2="1039.5" stroke-width="4.3"/>
<line x1="1398.1" y1="1022.5" x2="1406.5" y2="1039.5" stroke-width="4.3"/>
<line x1="1413.1" y1="1022.5" x2="1420.3" y2="1039.5" stroke-width="4.3"/>
<line x1="1425.3" y1="1023.3" x2="1431.4" y2="1038.7" stroke-width="4.3"/>
<line x1="1438.6" y1="1026.3" x2="1442.5" y2="1035.7" stroke-width="4.3"/>
<path d="M1435.0,1027.6 L1449.7,1031.0 L1436.5,1034.6 Z" fill="#000" stroke-width="1.4"/>
</g>
<g class="g" stroke-width="2.2">
<path d="M1487.2,1087.8 L1465.9,1078.1 L1455,1078 C1447,1078.5 1444.3,1084 1444.6,1090 C1445,1096 1448,1099.5 1452,1100.6 L1484.6,1112.6" />
<path d="M1445.5,1094.5 C1446.5,1099.5 1449,1102 1452,1103 L1484,1114.6 L1487.4,1113.6" stroke-width="2"/>
<path d="M1484.6,1112.8 C1484,1098 1488,1080 1496.5,1071.6 C1499.5,1070.6 1502,1071.2 1502.2,1073.5 C1502.6,1083 1497,1100 1487.6,1113.4 Z" />
<path d="M1487.6,1111 C1487,1098 1490.5,1082 1498.2,1073.4" stroke-width="1.8"/>
<path d="M1496.8,1082.8 L1519.8,1090.2 C1523,1091.5 1523.2,1103 1518.4,1105.3 L1494.6,1096.6" fill="#fff"/>
<ellipse cx="1519.6" cy="1097.7" rx="2.6" ry="7.2" fill="none" stroke-width="1.8" transform="rotate(12 1519.6 1097.7)"/>
<ellipse cx="1464.6" cy="1091.4" rx="6.2" ry="4.1" fill="none" stroke-width="3"/>
</g>
<g class="g" stroke-width="2.4">
<path d="M1343.6,1172 L1343.6,1137 Q1343.6,1131.4 1349.4,1131.4 L1479.6,1131.4 Q1483.6,1132.5 1483.6,1137.2 Q1483.6,1141.8 1479.6,1143 L1353.6,1143 L1353.6,1171.4 Q1348.5,1174 1343.6,1172 Z" fill="#fff"/>
<path d="M1346.6,1170.6 L1346.6,1138.4 Q1346.8,1134.4 1351,1134.4 L1476.6,1134.4" stroke-width="1.6"/>
<path d="M1351.2,1170.8 L1351.2,1140.6 L1477.4,1140.6" stroke-width="3"/>
<ellipse cx="1479.6" cy="1137.2" rx="2.2" ry="5.4" fill="none" stroke-width="1.8"/>
</g>
<g class="g" stroke-width="2.3">
<circle cx="1094.7" cy="1611.7" r="205.5" stroke-width="2"/>
<line x1="1094.5" y1="1406.3" x2="1094.5" y2="1481.5"/>
<line x1="1094.5" y1="1524.3" x2="1094.5" y2="1699.8"/>
<line x1="1094.5" y1="1742.4" x2="1094.5" y2="1817.2"/>
<path d="M1085.3,1487.0 L1085.3,1483.6 Q1085.3,1481.0 1087.2,1479.7 L1093.8,1475.4"/>
<path d="M1094.5,1481.5 Q1094.6,1483.2 1096.4,1484.2 L1127.5,1501.8 Q1135.2,1505.5 1135.2,1513.0 L1135.2,1535.5 Q1135.2,1540.6 1129.6,1542.6"/>
<path d="M1085.3,1486.0 Q1085.3,1483.4 1088,1485.2 L1123.5,1505.0 Q1129.8,1508.0 1129.8,1514.2 L1129.8,1539.0 Q1129.6,1544.6 1124.6,1542.2 L1085.3,1519.3 Z"/>
<ellipse cx="1105.9" cy="1513.3" rx="4.3" ry="6.3" fill="none" stroke-width="2.6" transform="rotate(-25 1105.9 1513.3)"/>
<ellipse cx="1107.2" cy="1514.3" rx="2.6" ry="4.6" fill="none" stroke-width="2.2" transform="rotate(-25 1107.2 1514.3)"/>
<path d="M1085.3,1705.0 L1085.3,1701.6 Q1085.3,1699.0 1087.2,1697.7 L1093.8,1693.4"/>
<path d="M1094.5,1699.5 Q1094.6,1701.2 1096.4,1702.2 L1127.5,1719.8 Q1135.2,1723.5 1135.2,1731.0 L1135.2,1753.5 Q1135.2,1758.6 1129.6,1760.6"/>
<path d="M1085.3,1704.0 Q1085.3,1701.4 1088,1703.2 L1123.5,1723.0 Q1129.8,1726.0 1129.8,1732.2 L1129.8,1757.0 Q1129.6,1762.6 1124.6,1760.2 L1085.3,1737.3 Z"/>
<ellipse cx="1105.9" cy="1731.3" rx="4.3" ry="6.3" fill="none" stroke-width="2.6" transform="rotate(-25 1105.9 1731.3)"/>
<ellipse cx="1107.2" cy="1732.3" rx="2.6" ry="4.6" fill="none" stroke-width="2.2" transform="rotate(-25 1107.2 1732.3)"/>
<line x1="883.9" y1="1407.3" x2="989.6" y2="1551.2"/>
<line x1="1192.2" y1="1332.2" x2="1124.6" y2="1512.2"/>
<line x1="1102.6" y1="1514.2" x2="1030.4" y2="1545.2"/>
<line x1="1031.4" y1="1546.2" x2="1105.6" y2="1729.2"/>
<circle cx="869.9" cy="1388.3" r="23.6"/>
<circle cx="1200.5" cy="1310" r="23.6"/>
<circle cx="241" cy="2232.9" r="21.8"/>
<circle cx="836.4" cy="2481.2" r="21.8"/>
</g>
<g stroke="#000" fill="none" stroke-linecap="round" stroke-linejoin="round">
<line x1="965" y1="1566" x2="1027.5" y2="1546.8" stroke-width="9.4" stroke-linecap="butt" stroke-dasharray="2.6 0.6"/>
<line x1="965" y1="1566" x2="1028.6" y2="1546.5" stroke-width="7.2" stroke-linecap="butt"/>
<path d="M1025,1542.4 L1032.6,1545.2 L1027.6,1551.4 Z" fill="#000" stroke-width="1"/>
<path d="M947.3,1556 L963.4,1560.7 L966.6,1570.6 L955.6,1582.6" stroke-width="1.8" fill="#fff"/>
<ellipse cx="950.4" cy="1569.2" rx="6.6" ry="14.3" transform="rotate(-17 950.4 1569.2)" stroke-width="2" fill="#fff"/>
<path d="M947.6,1559 L953.4,1579.6 M945.6,1571.4 L955.4,1567 M949.6,1558.6 L955.2,1578.6 M946,1573.4 L955.6,1569" stroke-width="1.3"/>
</g>
<g class="g" stroke-width="2.3">
<path d="M738.9,1620.1 L797.5,1601.3 M745.1,1647.2 L805.9,1628.9 M749.3,1627.9 L802.7,1612.2 M751.4,1637.3 L804.8,1620.6"/>
<ellipse cx="739.5" cy="1633.3" rx="9.6" ry="13.4" fill="none" transform="rotate(-17 739.5 1633.3)"/>
<path d="M797.5,1601.3 Q803.5,1603 805.6,1614 Q807.6,1625 805.9,1628.9" />
<path d="M800.8,1600.4 Q806.8,1602 809,1613 Q811,1624 809.4,1628" />
<path d="M804.6,1602.6 L821.6,1597.6 M809.6,1628 L826.8,1622.4"/>
<path d="M821.6,1597.6 Q826.5,1598.6 828.4,1608 Q830,1618 826.8,1622.4" />
<path d="M819,1598.4 Q824,1599.6 825.8,1609 Q827.4,1618.6 824.4,1623.2" />
<path d="M827.6,1602.6 L909,1576.6 M829.4,1612.6 L911.4,1588.6 M828.6,1607.6 L911,1582.6" stroke-width="1.8"/>
<path d="M908.5,1576.4 L932.2,1575.9 L911,1589.3 Z" fill="#000" stroke-width="1.4"/>
<path d="M910,1579.6 L922,1578.6 M911,1583 L920,1581.4" stroke="#fff" stroke-width="0.9"/>
</g>
<g class="g" stroke-width="2.3">
<path d="M1188.8,1428.8 A461,461 0 0 1 1614.9,1930.4" stroke-width="1.9"/>
<path d="M1273.8,1711.6 A223.2,223.2 0 0 1 1615.7,1905" stroke-width="1.9"/>
<path d="M1614.9,1930.4 Q1600.5,2050 1572.6,2203.4" stroke-width="1.9"/>
<line x1="1240.6" y1="2076.1" x2="1614.9" y2="1930.4"/>
<ellipse cx="1195.9" cy="2085.4" rx="45.6" ry="87.9" fill="none" stroke-width="1.9" transform="rotate(-5 1195.9 2085.4)"/>
<ellipse cx="1582.1" cy="2291.0" rx="45.2" ry="88.0" fill="none" stroke-width="1.9" transform="rotate(-5 1582.1 2291.0)"/>
<path d="M833.9,2369.3 L823.2,2201.7 L1344.6,1907.8 L1355.2,1913.3 L1359.1,1984.8 L1410.9,1956.1 L1416.1,2039.3 L1345.5,2078.0" fill="none"/>
<path d="M842.4,2363.0 L833.6,2207.1 L1355.2,1913.3" fill="none"/>
<line x1="823.2" y1="2201.7" x2="833.6" y2="2207.1"/>
<path d="M1358.7,1974.3 L1400.6,1951.0 L1410.9,1956.1" fill="none"/>
<line x1="1416.1" y1="2039.3" x2="1665.0" y2="2168.6"/>
<ellipse cx="1341.6" cy="1946.7" rx="4.4" ry="6.9" fill="#111" stroke-width="2.2" transform="rotate(33 1341.6 1946.7)"/>
<ellipse cx="1343.3" cy="1948.3" rx="1.8" ry="5.0" fill="#fff" stroke="none" transform="rotate(33 1343.3 1948.3)"/>
<ellipse cx="1392.4" cy="2028.0" rx="4.4" ry="6.9" fill="#111" stroke-width="2.2" transform="rotate(33 1392.4 2028.0)"/>
<ellipse cx="1394.1" cy="2029.6" rx="1.8" ry="5.0" fill="#fff" stroke="none" transform="rotate(33 1394.1 2029.6)"/>
<ellipse cx="1041.0" cy="2114.0" rx="3.2" ry="5.0" fill="none" transform="rotate(33 1041.0 2114.0)"/>
<ellipse cx="859.2" cy="2211.9" rx="3.2" ry="5.0" fill="none" transform="rotate(33 859.2 2211.9)"/>
<ellipse cx="850.4" cy="2224.5" rx="4.5" ry="7.2" fill="#111" stroke-width="2.2" transform="rotate(35 850.4 2224.5)"/>
<ellipse cx="852.1" cy="2226.1" rx="1.9" ry="5.2" fill="#fff" stroke="none" transform="rotate(35 852.1 2226.1)"/>
<ellipse cx="1050.1" cy="2238.2" rx="3.2" ry="5.0" fill="none" transform="rotate(33 1050.1 2238.2)"/>
<ellipse cx="867.2" cy="2335.8" rx="3.2" ry="5.0" fill="none" transform="rotate(33 867.2 2335.8)"/>
<line x1="833.9" y1="2369.3" x2="1245.5" y2="2583.4"/>
<line x1="842.5" y1="2362.6" x2="1244.6" y2="2570.4"/>
<line x1="857.0" y1="2354.9" x2="1199.3" y2="2162.1"/>
<path d="M843.1,2345.6 L857.0,2337.3 L859.1,2354.9 L873.9,2361.0 L860.1,2368.7 L843.4,2361.0" fill="none"/>
<line x1="843.1" y1="2345.6" x2="843.6" y2="2361.0"/>
<path d="M1199.3,2162.1 L1189.5,2009.8 L1200.2,2003.7 L1592.6,2207.8" fill="none"/>
<line x1="1189.8" y1="2010.6" x2="1583.3" y2="2214.6"/>
<line x1="1199.3" y1="2162.1" x2="1447.8" y2="2291.6"/>
<path d="M1190.3,2019.0 L1200.2,2022.9 Q1204.6,2025.6 1204.6,2029.6 L1204.6,2034.6 Q1203.6,2037.4 1200.6,2036.8 L1190.9,2031.0" stroke-width="2.6"/>
<line x1="1189.6" y1="2017.4" x2="1190.5" y2="2031.6" stroke-width="3.8"/>
<circle cx="1197.6" cy="2028.9" r="2.1" fill="#000" stroke-width="1"/>
<path d="M1198.7,2142.8 L1208.6,2146.7 Q1213.0,2149.4 1213.0,2153.4 L1213.0,2158.4 Q1212.0,2161.2 1209.0,2160.6 L1199.3,2154.8" stroke-width="2.6"/>
<line x1="1198.0" y1="2141.2" x2="1198.9" y2="2155.4" stroke-width="3.8"/>
<circle cx="1206.0" cy="2152.7" r="2.1" fill="#000" stroke-width="1"/>
<path d="M1245.5,2583.4 L1231.7,2414.9 L1752.8,2120.9 L1762.9,2127.1 L1767.6,2198.0 L1817.5,2169.3 L1825.2,2266.4 L1253.2,2587.4 L1245.5,2583.4" fill="none"/>
<path d="M1253.2,2587.4 L1242.5,2419.2 L1762.9,2127.1" fill="none"/>
<line x1="1231.7" y1="2414.9" x2="1242.5" y2="2419.2"/>
<path d="M1767.2,2187.8 L1808.2,2164.1 L1817.5,2169.3" fill="none"/>
<ellipse cx="1258.3" cy="2436.5" rx="3.2" ry="5.0" fill="none" transform="rotate(33 1258.3 2436.5)"/>
<ellipse cx="1749.7" cy="2159.2" rx="3.2" ry="5.0" fill="none" transform="rotate(33 1749.7 2159.2)"/>
<ellipse cx="1801.1" cy="2241.1" rx="3.2" ry="5.0" fill="none" transform="rotate(33 1801.1 2241.1)"/>
<path d="M1228.0,2559.8 L1238.6,2552.4 L1240.2,2567.0" fill="none" stroke-width="1.8"/>
<line x1="1238.6" y1="2552.4" x2="1239.0" y2="2546.0" stroke-width="1.8"/>
<line x1="855.3" y1="2470.3" x2="1346.4" y2="2185.0"/>
<path d="M228.0,2081.7 L106.9,2012.2 L580.4,1739.1 L651.6,1780.7 L611.5,1802.6 L662.7,1832.4 L228.0,2081.7 L228.0,2092.4 L106.9,2025.2 L106.9,2012.2" fill="none"/>
<line x1="651.6" y1="1780.7" x2="651.6" y2="1790.2"/>
<line x1="651.6" y1="1790.2" x2="621.7" y2="1807.8"/>
<line x1="662.7" y1="1842.6" x2="228.0" y2="2092.4"/>
<line x1="604.8" y1="1877.1" x2="604.8" y2="1887.0" stroke-width="1.6"/>
<ellipse cx="600.1" cy="1767.1" rx="5.6" ry="4.0" fill="none"/>
<ellipse cx="634.0" cy="1828.7" rx="5.6" ry="4.0" fill="none"/>
<ellipse cx="233.9" cy="2063.7" rx="5.6" ry="4.0" fill="none"/>
<path d="M115.3,2029.8 L115.3,2038.7 L461.2,2237.9 L470.6,2231.0" fill="none"/>
<line x1="461.2" y1="2224.6" x2="461.2" y2="2237.9"/>
<line x1="228.0" y1="2092.4" x2="348.8" y2="2161.8"/>
<line x1="651.6" y1="1790.2" x2="863.5" y2="1912.5"/>
<path d="M470.6,2219.1 L348.8,2152.5 L782.8,1901.8 L833.4,1931.0 L872.8,1907.9 L943.7,1948.8 L470.6,2219.1 L470.6,2230.8 L348.8,2161.8 L348.8,2152.5" fill="none"/>
<path d="M943.7,1948.8 L943.7,1958.4 L470.6,2230.8" fill="none"/>
<ellipse cx="779.8" cy="1919.6" rx="5.6" ry="4.0" fill="none"/>
<ellipse cx="888.8" cy="1934.7" rx="5.6" ry="4.0" fill="none"/>
<ellipse cx="380.2" cy="2154.1" rx="5.6" ry="4.0" fill="none"/>
<path d="M314.3,1820.1 C320.6,1820.4 340.0,1818.6 351.9,1821.7 C363.8,1824.8 377.0,1831.9 385.7,1838.6 C394.4,1845.3 399.4,1853.5 404.2,1861.7 C409.0,1869.9 412.7,1883.5 414.4,1887.9" fill="none"/>
<path d="M330.3,1808.4 L314.3,1820.1 L329.7,1828.4" fill="none"/>
<path d="M636.3,2041.4 C639.5,2039.7 649.0,2033.7 655.6,2031.2 C662.2,2028.7 667.8,2026.8 676.0,2026.5 C684.2,2026.2 695.7,2026.1 704.9,2029.6 C714.1,2033.1 726.7,2044.7 731.1,2047.7" fill="none"/>
<path d="M731.1,2031.2 L731.6,2048.0 L715.7,2047.2" fill="none"/>
<line x1="253.5" y1="2215.0" x2="317.0" y2="2128.5"/>
</g>
<text transform="translate(858.30,1400.50) scale(0.4617,0.4534)" font-size="100" font-family='"Liberation Serif", serif' fill="#000" style="white-space:pre">7</text>
<text transform="translate(1190.71,1322.00) scale(0.4302,0.4439)" font-size="100" font-family='"Liberation Serif", serif' fill="#000" style="white-space:pre">9</text>
<text transform="translate(227.88,2246.60) scale(0.4051,0.4153)" font-size="100" font-family='"Liberation Serif", serif' fill="#000" style="white-space:pre">B</text>
<text transform="translate(825.98,2495.70) scale(0.4061,0.4061)" font-size="100" font-family='"Liberation Serif", serif' fill="#000" style="white-space:pre">F</text>
</svg>
</body></html>
